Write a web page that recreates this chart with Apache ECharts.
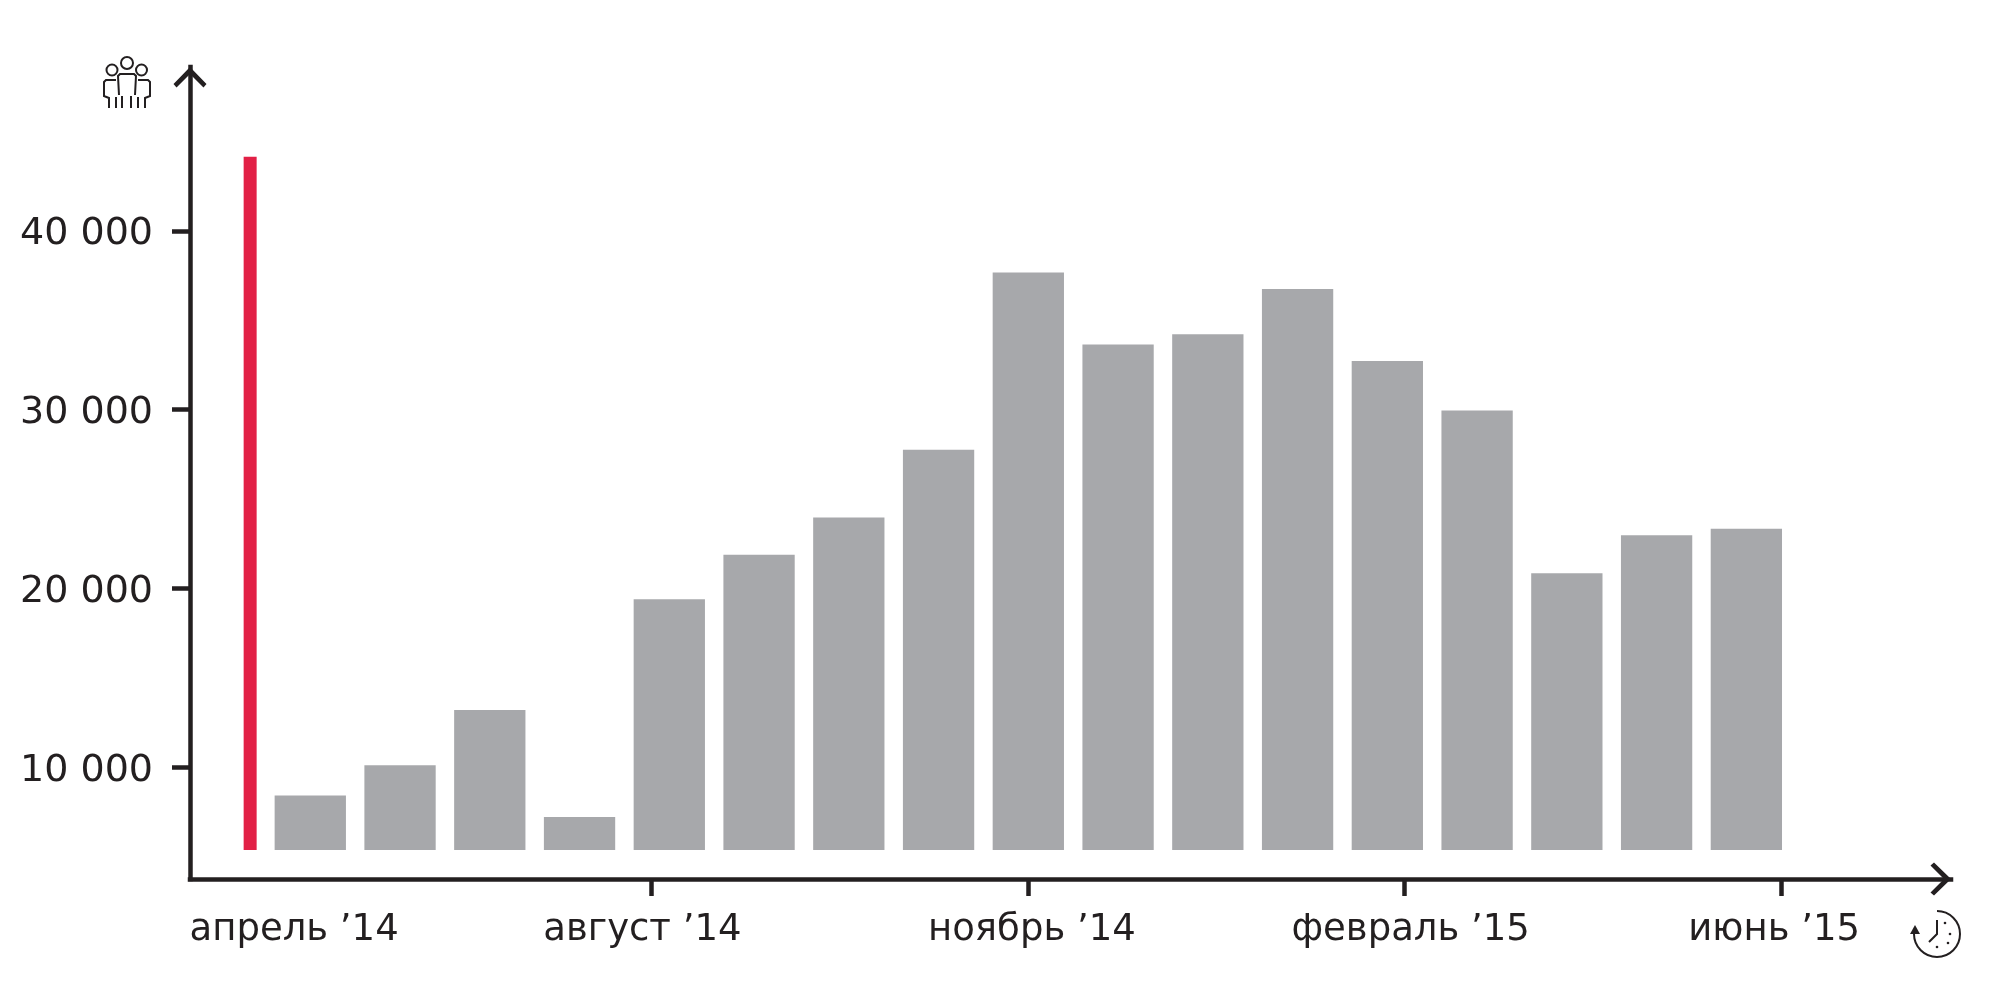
<!DOCTYPE html>
<html><head><meta charset="utf-8">
<style>html,body{margin:0;padding:0;background:#fff}#c{width:2000px;height:1000px}</style>
<script src="https://cdn.jsdelivr.net/npm/echarts@6/dist/echarts.min.js"></script>
</head><body><div id="c"></div>
<script>
const months = [1,2,3,4,5,6,7,8,9,10,11,12,13,14,15,16,17];
const values = [8400,10100,13190,7200,19390,21880,23970,27750,37680,33650,34220,36750,32720,29950,20840,22970,23340];
const highlightMonth = 0.33;
const highlightValue = 44150;
const baseline = 5355;
const yTicks = [10000,20000,30000,40000];
const xTickMonths = [4.8,9.0,13.19,17.39];
const xLabelMonths = [0.82,4.7,9.04,13.26,17.31];
const xLabels = ['апрель ’14','август ’14','ноябрь ’14','февраль ’15','июнь ’15'];

const ink = '#231f20';
const font = 'DejaVu Sans';
const chevron = 'path://M0,17 L16.5,0 L33,17 L30,20.500 L16.5,7 L3,20.500 Z';
const xMin = -0.340, xMax = 19.28, barXMin = -0.329, yMin = 3740, yMax = 49178;
const axisLine = {show:true,onZero:false,symbol:['none',chevron],symbolSize:[33,20.5],symbolOffset:[0,-10.25],lineStyle:{color:ink,width:4.5,cap:'square'}};

const strokeStyle = {fill:'none',stroke:ink,lineWidth:2};
const ring = (cx,cy,r)=>({type:'circle',silent:true,shape:{cx,cy,r},style:strokeStyle});
const poly = (points)=>({type:'polyline',silent:true,shape:{points},style:strokeStyle});
const dot = (cx,cy)=>({type:'circle',silent:true,shape:{cx,cy,r:1.3},style:{fill:ink}});
const iconParts = [
  ring(127,63,6), ring(112,70,5.5), ring(141.500,70,5.5),
  poly([[119,95],[118,76],[120,74],[134,74],[136,76],[135,95]]),
  poly([[116,80],[106,80],[104,82],[104,96],[109,98],[109,108]]),
  poly([[138,80],[148,80],[150,82],[150,96],[145,98],[145,108]]),
  poly([[116,97],[116,108]]), poly([[122,96],[122,108]]),
  poly([[131,96],[131,108]]), poly([[138,97],[138,108]]),
  {type:'arc',silent:true,shape:{cx:1937,cy:934,r:23,startAngle:-Math.PI/2,endAngle:Math.PI*1.02,clockwise:true},style:strokeStyle},
  poly([[1937,920],[1937,934],[1929,942]]),
  {type:'polygon',silent:true,shape:{points:[[1910,934],[1915,925],[1920,934]]},style:{fill:ink}},
  dot(1945,923), dot(1950,934), dot(1948,943), dot(1937,947)
];

const chart = echarts.init(document.getElementById('c'),null,{renderer:'canvas'});
chart.setOption({
  animation:false,
  backgroundColor:'#fff',
  grid:[
    {left:190,right:49,top:67,bottom:121},
    {left:191,right:49,top:67,bottom:150}
  ],
  xAxis:[
    {gridIndex:0,type:'value',min:xMin,max:xMax,splitLine:{show:false},axisLine,
     axisTick:{show:true,length:17,customValues:xTickMonths,lineStyle:{color:ink,width:4.5}},
     axisLabel:{show:true,customValues:xLabelMonths,margin:33,fontFamily:font,fontSize:37,color:ink,hideOverlap:false,
       formatter:v=>xLabels[xLabelMonths.indexOf(v)]||''}},
    {gridIndex:1,type:'value',min:barXMin,max:xMax,show:false},
    {gridIndex:1,type:'value',min:barXMin,max:xMax,show:false}
  ],
  yAxis:[
    {gridIndex:0,type:'value',min:yMin,max:yMax,splitLine:{show:false},axisLine,
     axisTick:{show:true,length:18,customValues:yTicks,lineStyle:{color:ink,width:4.5}},
     axisLabel:{show:true,customValues:yTicks,margin:37,fontFamily:font,fontSize:38,color:ink,hideOverlap:false,
       formatter:v=>'{a|'+String(v).replace(/(\d)(\d{3})$/,'$1 $2')+'}',
       rich:{a:{fontFamily:font,fontSize:38,color:ink,padding:[7,0,0,0]}}}},
    {gridIndex:1,type:'value',min:baseline,max:yMax,show:false}
  ],
  series:[
    {type:'bar',xAxisIndex:1,yAxisIndex:1,barWidth:71.3,itemStyle:{color:'#a7a8ab'},
     data:months.map((m,i)=>[m,values[i]])},
    {type:'bar',xAxisIndex:2,yAxisIndex:1,barWidth:13,itemStyle:{color:'#e22046'},
     data:[[highlightMonth,highlightValue]]}
  ],
  graphic:iconParts
});
</script></body></html>
